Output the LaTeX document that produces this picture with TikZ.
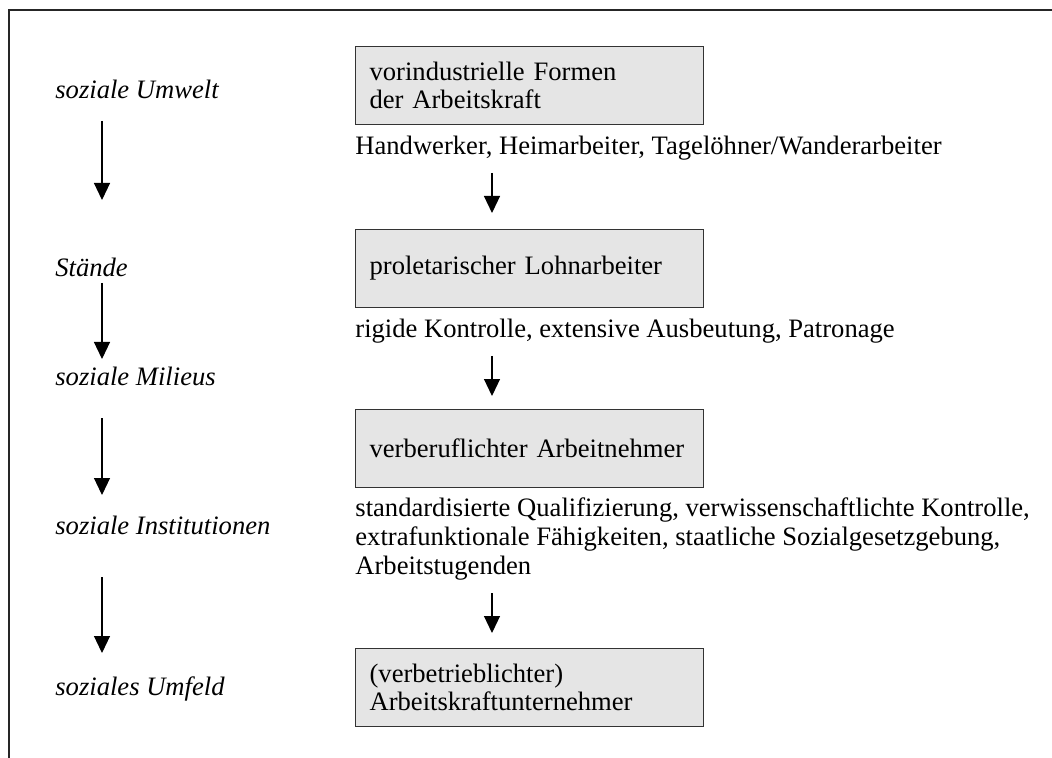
\documentclass[tikz,border=0pt]{standalone}
\usepackage{fontspec}
\setmainfont{Liberation Serif}
\usetikzlibrary{arrows.meta}

\begin{document}
\begin{tikzpicture}[
			x=0.5pt, y=-0.5pt,
			every node/.style={font=\fontsize{13.3}{14.3}\selectfont},
			stagebox/.style={draw=black!80,fill=black!10,line width=0.6pt,anchor=north west,minimum width=174pt,minimum height=39pt,text width=160pt,inner xsep=7pt,align=left,font=\fontsize{13.3}{13.8}\selectfont},
			midtext/.style={anchor=west,inner sep=0pt,align=left},
			levellabel/.style={anchor=west,inner sep=0pt,font=\fontsize{13.3}{14.3}\selectfont\itshape},
			flow/.style={-{Triangle[length=8.5pt,width=8pt]},line width=0.6pt}
		]

		\useasboundingbox (0,0) rectangle (1052,758);
		\draw[line width=0.6pt,black!85] (1052,10) -- (9,10) -- (9,758);

		\node[stagebox] (b1) at (355,46) {vorindustrielle Formen\\der Arbeitskraft};
		\node[midtext] (h1) at (355,148) {Handwerker, Heimarbeiter, Tagelöhner/Wanderarbeiter};
		\node[stagebox] (b2) at (355,229) {proletarischer Lohnarbeiter};
		\node[midtext] (h2) at (355,331) {rigide Kontrolle, extensive Ausbeutung, Patronage};
		\node[stagebox] (b3) at (355,409) {verberuflichter Arbeitnehmer};
		\node[midtext] (h3) at (355,539) {standardisierte Qualifizierung, verwissenschaftlichte Kontrolle,\\extrafunktionale Fähigkeiten, staatliche Sozialgesetzgebung,\\Arbeitstugenden};
		\node[stagebox] (b4) at (355,648) {(verbetrieblichter)\\Arbeitskraftunternehmer};

		\node[levellabel] (l1) at (55,89) {soziale Umwelt};
		\node[levellabel] (l2) at (55,267) {Stände};
		\node[levellabel] (l3) at (55,376) {soziale Milieus};
		\node[levellabel] (l4) at (55,525) {soziale Institutionen};
		\node[levellabel] (l5) at (55,689) {soziales Umfeld};

		% arrow ends, left column
		\coordinate (l1s) at (102,121); \coordinate (l1e) at (102,200);
		\coordinate (l2s) at (102,283); \coordinate (l2e) at (102,359);
		\coordinate (l3s) at (102,418); \coordinate (l3e) at (102,495);
		\coordinate (l4s) at (102,577); \coordinate (l4e) at (102,653);
		% arrow ends, right column
		\coordinate (h1s) at (492,173); \coordinate (h1e) at (492,213);
		\coordinate (h2s) at (492,356); \coordinate (h2e) at (492,396);
		\coordinate (h3s) at (492,593); \coordinate (h3e) at (492,633);

		\draw[flow] (l1s) -- (l1e);
		\draw[flow] (l2s) -- (l2e);
		\draw[flow] (l3s) -- (l3e);
		\draw[flow] (l4s) -- (l4e);

		\draw[flow] (h1s) -- (h1e);
		\draw[flow] (h2s) -- (h2e);
		\draw[flow] (h3s) -- (h3e);

	\end{tikzpicture}
\end{document}
